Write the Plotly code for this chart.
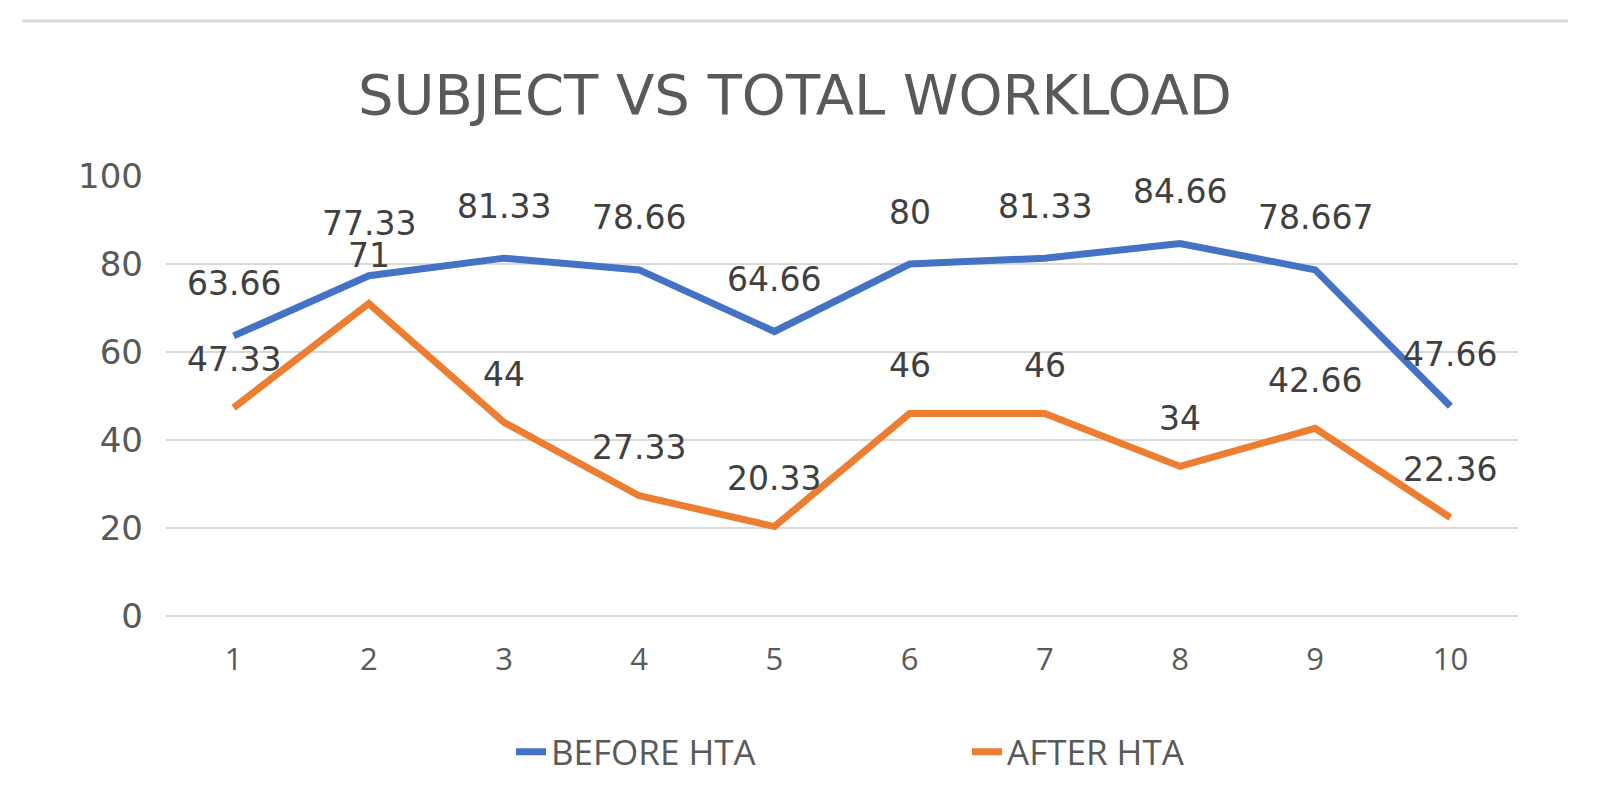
import plotly.graph_objects as go

# ---- data ----
categories = [1, 2, 3, 4, 5, 6, 7, 8, 9, 10]
before_hta = [63.66, 77.33, 81.33, 78.66, 64.66, 80, 81.33, 84.66, 78.667, 47.66]
after_hta = [47.33, 71, 44, 27.33, 20.33, 46, 46, 34, 42.66, 22.36]
y_ticks = [0, 20, 40, 60, 80, 100]
series_names = ["BEFORE HTA", "AFTER HTA"]
title_text = "SUBJECT VS TOTAL WORKLOAD"

BLUE = "#4472C4"
ORANGE = "#ED7D31"
GRID = "#D9D9D9"

# the page body has an 8px margin, so the figure is sized to fit the window
W, H = 1591, 783
L, R, T, B = 158, 81, 168, 175
PW, PH = W - L - R, H - T - B

fig = go.Figure()
for name, vals, col in [(series_names[0], before_hta, BLUE), (series_names[1], after_hta, ORANGE)]:
    fig.add_trace(go.Scatter(
        x=categories, y=vals, mode="lines", name=name,
        line=dict(color=col, width=7), hoverinfo="skip",
    ))

annotations = []
for vals, shift in ((before_hta, 52), (after_hta, 48)):
    for c, v in zip(categories, vals):
        annotations.append(dict(
            x=c, y=v, xref="x", yref="y", text=str(v), showarrow=False,
            yshift=shift, yanchor="middle", xanchor="center",
            font=dict(family="DejaVu Sans", size=33, color="#404040"),
        ))

fig.update_layout(
    width=W, height=H,
    margin=dict(l=L, r=R, t=T, b=B, autoexpand=False),
    paper_bgcolor="white", plot_bgcolor="white",
    title=dict(text=title_text, x=787 / W, xref="container", xanchor="center",
               y=1 - 86 / H, yref="container", yanchor="middle",
               font=dict(family="DejaVu Sans", size=56, color="#595959")),
    xaxis=dict(range=[0.5, 10.5], tickvals=categories, showgrid=False, zeroline=False,
               showline=False, ticks="", ticklabelstandoff=22,
               tickfont=dict(family="Open Sans", size=31, color="#595959")),
    yaxis=dict(range=[0, 100], tickvals=y_ticks, showgrid=True, gridcolor=GRID, gridwidth=2,
               zeroline=True, zerolinecolor=GRID, zerolinewidth=2, showline=False,
               ticks="", ticklabelstandoff=22,
               tickfont=dict(family="DejaVu Sans", size=34, color="#595959")),
    legend=dict(orientation="h", xref="container", yref="container",
                x=503 / W, xanchor="left", y=1 - 744 / H, yanchor="middle",
                entrywidth=411, entrywidthmode="pixels",
                font=dict(family="Open Sans", size=35, color="#595959"),
                bgcolor="rgba(0,0,0,0)"),
    annotations=annotations,
    shapes=[dict(type="line", xref="paper", yref="paper",
                 x0=(14 - L) / PW, x1=(1560 - L) / PW,
                 y0=(H - B - 13) / PH, y1=(H - B - 13) / PH,
                 line=dict(color=GRID, width=3))],
    showlegend=True,
)

fig.write_html("out.html")
